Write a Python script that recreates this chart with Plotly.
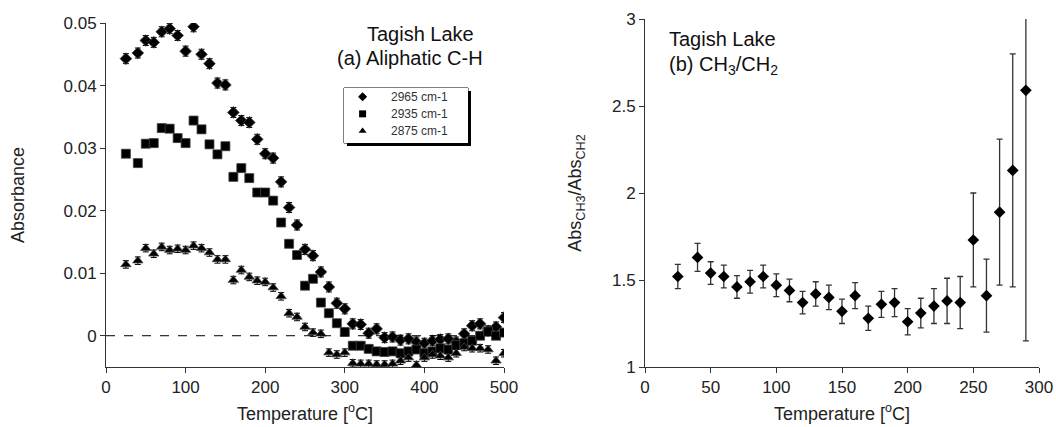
import plotly.graph_objects as go

# ---------------- data: left panel (Absorbance vs Temperature) ----------------
temp_a = [25, 40, 50, 60, 70, 80, 90, 100, 110, 120, 130, 140, 150, 160, 170, 180, 190,
          200, 210, 220, 230, 240, 250, 260, 270, 280, 290, 300, 310, 320, 330, 340, 350,
          360, 370, 380, 390, 400, 410, 420, 430, 440, 450, 460, 470, 480, 490, 500]

abs_2965 = [0.0443, 0.0452, 0.0472, 0.0469, 0.0486, 0.0491, 0.0480, 0.0455, 0.0494, 0.0450,
            0.0435, 0.0404, 0.0401, 0.0357, 0.0344, 0.0341, 0.0314, 0.0291, 0.0284, 0.0246,
            0.0205, 0.0177, 0.0138, 0.0128, 0.0102, 0.0078, 0.0052, 0.0043, 0.0019, 0.0018,
            0.0004, 0.0011, -0.0003, -0.0002, -0.0007, -0.0005, -0.0010, -0.0012, -0.0008,
            -0.0006, -0.0005, -0.0010, 0.0003, 0.0016, 0.0019, 0.0008, 0.0014, 0.0029]

abs_2935 = [0.0291, 0.0276, 0.0307, 0.0308, 0.0332, 0.0331, 0.0316, 0.0308, 0.0344, 0.0330,
            0.0306, 0.0290, 0.0303, 0.0254, 0.0268, 0.0252, 0.0229, 0.0229, 0.0216, 0.0181,
            0.0147, 0.0129, 0.0080, 0.0091, 0.0053, 0.0036, 0.0020, 0.0006, -0.0016, -0.0016,
            -0.0021, -0.0025, -0.0026, -0.0025, -0.0028, -0.0025, -0.0022, -0.0028, -0.0025,
            -0.0020, -0.0022, -0.0015, -0.0012, -0.0008, 0.0000, 0.0007, 0.0000, 0.0005]

abs_2875 = [0.0114, 0.0120, 0.0140, 0.0131, 0.0142, 0.0137, 0.0139, 0.0137, 0.0144, 0.0140,
            0.0133, 0.0122, 0.0122, 0.0089, 0.0105, 0.0094, 0.0088, 0.0086, 0.0077, 0.0063,
            0.0036, 0.0030, 0.0014, 0.0005, 0.0003, -0.0027, -0.0030, -0.0027, -0.0044, -0.0045,
            -0.0045, -0.0046, -0.0046, -0.0045, -0.0040, -0.0035, -0.0047, -0.0035, -0.0030,
            -0.0032, -0.0035, -0.0028, -0.0018, -0.0020, -0.0020, -0.0022, -0.0040, -0.0028]

err_2965 = 0.0008
err_2935 = 0.0006
err_2875 = 0.0006

series_names = ["2965 cm-1", "2935 cm-1", "2875 cm-1"]

# ---------------- data: right panel (ratio) ----------------
temp_b = [25, 40, 50, 60, 70, 80, 90, 100, 110, 120, 130, 140, 150, 160, 170, 180, 190,
          200, 210, 220, 230, 240, 250, 260, 270, 280, 290]
ratio = [1.52, 1.63, 1.54, 1.52, 1.46, 1.49, 1.52, 1.47, 1.44, 1.37, 1.42, 1.40, 1.32, 1.41,
         1.28, 1.36, 1.37, 1.26, 1.31, 1.35, 1.38, 1.37, 1.73, 1.41, 1.89, 2.13, 2.59]
ratio_err = [0.07, 0.08, 0.065, 0.065, 0.065, 0.065, 0.065, 0.065, 0.065, 0.065, 0.07, 0.07,
             0.07, 0.075, 0.07, 0.075, 0.08, 0.075, 0.085, 0.10, 0.13, 0.15, 0.27, 0.21,
             0.42, 0.67, 1.44]

left_xticks = [0, 100, 200, 300, 400, 500]
left_yticks = [0, 0.01, 0.02, 0.03, 0.04, 0.05]
left_yticklabels = ["0", "0.01", "0.02", "0.03", "0.04", "0.05"]
right_xticks = [0, 50, 100, 150, 200, 250, 300]
right_yticks = [1, 1.5, 2, 2.5, 3]
right_yticklabels = ["1", "1.5", "2", "2.5", "3"]

FONT = "Liberation Sans, Arial, sans-serif"
W, H = 1056, 427


def px_x(p):
    return p / W


def px_y(p):
    return (H - p) / H


fig = go.Figure()

symbols = ["diamond", "square", "triangle-up"]
for name, ys, err, sym in zip(series_names, [abs_2965, abs_2935, abs_2875],
                              [err_2965, err_2935, err_2875], symbols):
    fig.add_trace(go.Scatter(
        x=temp_a, y=ys, mode="markers", name=name, showlegend=False,
        marker=dict(symbol=sym, size=9, color="black",
                    line=dict(color="#444444", width=0.8)),
        error_y=dict(type="constant", value=err, color="black", thickness=1, width=3),
        xaxis="x", yaxis="y",
    ))

fig.add_trace(go.Scatter(
    x=temp_b, y=ratio, mode="markers", showlegend=False,
    marker=dict(symbol="diamond", size=9, color="black"),
    error_y=dict(type="data", array=ratio_err, color="#333333", thickness=1.3, width=3),
    xaxis="x2", yaxis="y2",
))

# ---- manual legend (box drawn in its own hidden axis so it can be sized like the reference)
LEG_X0, LEG_X1, LEG_Y0, LEG_Y1 = 344, 468, 88, 143
leg_rows = [0.84, 0.53, 0.22]
fig.add_trace(go.Scatter(
    x=[0.15] * 3, y=leg_rows, mode="markers", showlegend=False, hoverinfo="skip",
    marker=dict(symbol=[s for s in symbols], size=7, color="black"),
    xaxis="x3", yaxis="y3",
))
for name, yy in zip(series_names, leg_rows):
    fig.add_annotation(text=name, xref="x3", yref="y3", x=0.36, y=yy, xanchor="left",
                       yanchor="middle", showarrow=False,
                       font=dict(family=FONT, size=12, color="#333333"))

ybot = px_y(367)
axis_common = dict(showgrid=False, zeroline=False, showline=True, linecolor="#333333",
                   linewidth=1, ticks="outside", ticklen=5, tickcolor="#333333",
                   automargin=False,
                   tickfont=dict(family=FONT, size=17, color="#222222"), mirror=False)
title_font = dict(family=FONT, size=18, color="#222222")

fig.update_layout(
    width=W, height=H,
    margin=dict(l=0, r=0, t=0, b=0, autoexpand=False),
    paper_bgcolor="white", plot_bgcolor="white",
    font=dict(family=FONT, color="#222222"),
    showlegend=False,
    xaxis=dict(domain=[px_x(106), px_x(504)], range=[0, 500], tickvals=left_xticks,
               title=dict(text="Temperature [<sup>o</sup>C]", font=title_font, standoff=10),
               anchor="y", **axis_common),
    yaxis=dict(domain=[ybot, px_y(23)], range=[-0.005, 0.05], tickvals=left_yticks,
               ticktext=left_yticklabels,
               title=dict(text="Absorbance", font=title_font, standoff=34),
               anchor="x", **axis_common),
    xaxis2=dict(domain=[px_x(645), px_x(1039)], range=[0, 300], tickvals=right_xticks,
                title=dict(text="Temperature [<sup>o</sup>C]", font=title_font, standoff=10),
                anchor="y2", **axis_common),
    yaxis2=dict(domain=[ybot, px_y(19)], range=[1, 3], tickvals=right_yticks,
                ticktext=right_yticklabels,
                title=dict(text="Abs<sub>CH3</sub>/Abs<sub>CH2</sub>", font=title_font,
                           standoff=25),
                anchor="x2", **axis_common),
    xaxis3=dict(domain=[px_x(LEG_X0), px_x(LEG_X1)], range=[0, 1], visible=False,
                fixedrange=True, anchor="y3"),
    yaxis3=dict(domain=[px_y(LEG_Y1), px_y(LEG_Y0)], range=[0, 1], visible=False,
                fixedrange=True, anchor="x3"),
)

# dashed zero line
fig.add_shape(type="line", xref="x", yref="y", x0=0, x1=500, y0=0, y1=0,
              line=dict(color="black", width=1, dash="dash"))

# legend shadow + box
fig.add_shape(type="rect", xref="paper", yref="paper",
              x0=px_x(LEG_X0 + 3), x1=px_x(LEG_X1 + 3), y0=px_y(LEG_Y1 + 3),
              y1=px_y(LEG_Y0 + 3), fillcolor="black", line=dict(width=0), layer="below")
fig.add_shape(type="rect", xref="paper", yref="paper",
              x0=px_x(LEG_X0), x1=px_x(LEG_X1), y0=px_y(LEG_Y1), y1=px_y(LEG_Y0),
              fillcolor="white", line=dict(color="black", width=1), layer="below")

ann_font = dict(family=FONT, size=20, color="#111111")
fig.add_annotation(text="Tagish Lake", xref="paper", yref="paper", x=px_x(420), y=px_y(34),
                   xanchor="center", yanchor="middle", showarrow=False, font=ann_font)
fig.add_annotation(text="(a) Aliphatic C-H", xref="paper", yref="paper", x=px_x(410),
                   y=px_y(58), xanchor="center", yanchor="middle", showarrow=False,
                   font=ann_font)
fig.add_annotation(text="Tagish Lake", xref="paper", yref="paper", x=px_x(667), y=px_y(39),
                   xanchor="left", yanchor="middle", showarrow=False, font=ann_font)
fig.add_annotation(text="(b) CH<sub>3</sub>/CH<sub>2</sub>", xref="paper", yref="paper",
                   x=px_x(667), y=px_y(66), xanchor="left", yanchor="middle",
                   showarrow=False, font=ann_font)

fig.write_html("out.html")
